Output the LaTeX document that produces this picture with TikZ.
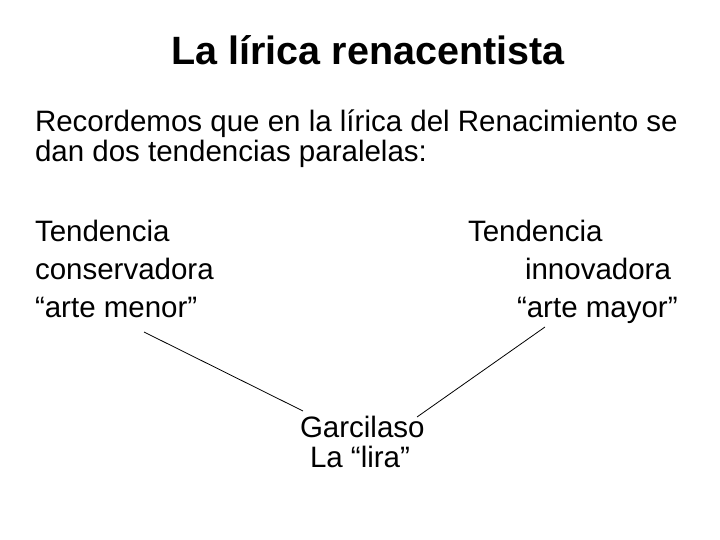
\documentclass[tikz,border=0pt]{standalone}
\usepackage{fontspec}
\setmainfont{Liberation Sans}
\begin{document}
\begin{tikzpicture}[x=1pt,y=-1pt,
  txt/.style={anchor=base west,inner sep=0pt,outer sep=0pt,font=\fontsize{29.5}{35}\selectfont},
  ttl/.style={anchor=base,inner sep=0pt,font=\fontsize{39.5}{48}\selectfont\bfseries},
  conn/.style={draw,line width=0.8pt}]
\useasboundingbox (0,0) rectangle (720,540);
\node[ttl] (title) at (368,65) {La lírica renacentista};
\node[txt] (p1) at (35,132) {Recordemos que en la lírica del Renacimiento se};
\node[txt] (p2) at (35,162) {dan dos tendencias paralelas:};
\node[txt] (l1) at (35,241) {Tendencia};
\node[txt] (l2) at (35,279) {conservadora};
\node[txt] (l3) at (35,317) {“arte menor”};
\node[txt] (r1) at (468,241) {Tendencia};
\node[txt] (r2) at (525,279) {innovadora};
\node[txt] (r3) at (517,317) {“arte mayor”};
\node[txt] (g1) at (300,437) {Garcilaso};
\node[txt] (g2) at (310,467) {La “lira”};
\coordinate (ls) at (144,332);
\coordinate (le) at (303,411);
\coordinate (rs) at (545,327);
\coordinate (re) at (417,417);
\draw[conn] (ls) -- (le);
\draw[conn] (rs) -- (re);
\end{tikzpicture}
\end{document}
